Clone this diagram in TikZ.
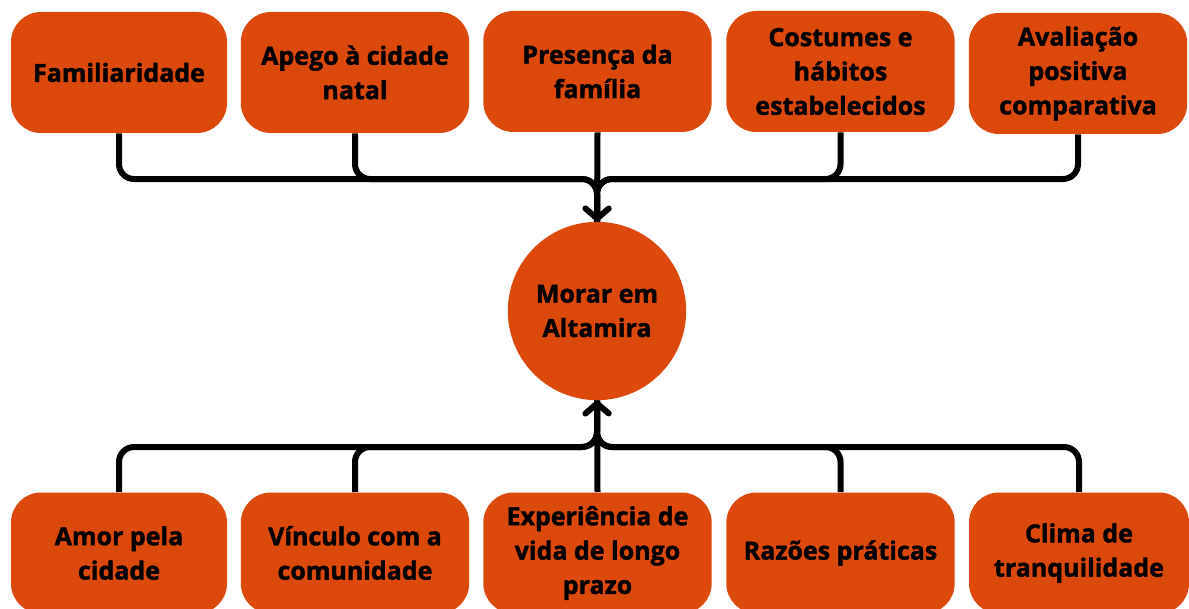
\documentclass[tikz,border=0pt]{standalone}
\usepackage{fontspec}
\setmainfont{Open Sans}[BoldFeatures={FakeBold=1.6}]
\usetikzlibrary{arrows.meta}
\definecolor{laranja}{HTML}{DD490B}
\begin{document}
\begin{tikzpicture}
  [x=0.6pt,y=-0.6pt,
   fator/.style={rectangle,rounded corners=18pt,fill=laranja,minimum width=137pt,
     minimum height=72.6pt,align=center,font=\bfseries\fontsize{15}{20.6}\selectfont},
   centro/.style={circle,fill=laranja,minimum size=107pt,align=center,
     font=\bfseries\fontsize{15}{20.6}\selectfont},
   liga/.style={line width=3.6pt,rounded corners=9pt},
   seta/.style={-{Straight Barb[length=6pt,width=14pt,line cap=round,line join=round]}}]
  \clip (0,0) rectangle (1189,608);

  \node (morar) at (597,311) [centro] {Morar em\\Altamira};

  \node (f1) at (119,72.5) [fator,minimum width=129.6pt] {Familiaridade};
  \node (f2) at (355,72.5) [fator] {Apego à cidade\\natal};
  \node (f3) at (597.5,71.5) [fator] {Presença da\\família};
  \node (f4) at (840.5,71.5) [fator] {Costumes e\\hábitos\\estabelecidos};
  \node (f5) at (1078,73.5) [fator,minimum width=131pt] {Avaliação\\positiva\\comparativa};

  \node (b1) at (119,553) [fator,minimum width=129.6pt] {Amor pela\\cidade};
  \node (b2) at (355,553) [fator] {Vínculo com a\\comunidade};
  \node (b3) at (597.5,553) [fator] {Experiência de\\vida de longo\\prazo};
  \node (b4) at (840.5,553) [fator] {Razões práticas};
  \node (b5) at (1079,553) [fator,minimum width=132pt] {Clima de\\tranquilidade};

  \coordinate (cima) at (597,179);
  \coordinate (baixo) at (597,447);

  \draw [liga] (f1.south) |- (cima) -- (morar.north);
  \draw [liga] (f2.south) |- (cima) -- (morar.north);
  \draw [liga] (f4.south) |- (cima) -- (morar.north);
  \draw [liga] (f5.south) |- (cima) -- (morar.north);
  \draw [liga,seta] (f3.south) -- (morar.north);

  \draw [liga] (b1.north) |- (baixo) -- (morar.south);
  \draw [liga] (b2.north) |- (baixo) -- (morar.south);
  \draw [liga] (b4.north) |- (baixo) -- (morar.south);
  \draw [liga] (b5.north) |- (baixo) -- (morar.south);
  \draw [liga,seta] (b3.north) -- (morar.south);
\end{tikzpicture}
\end{document}
